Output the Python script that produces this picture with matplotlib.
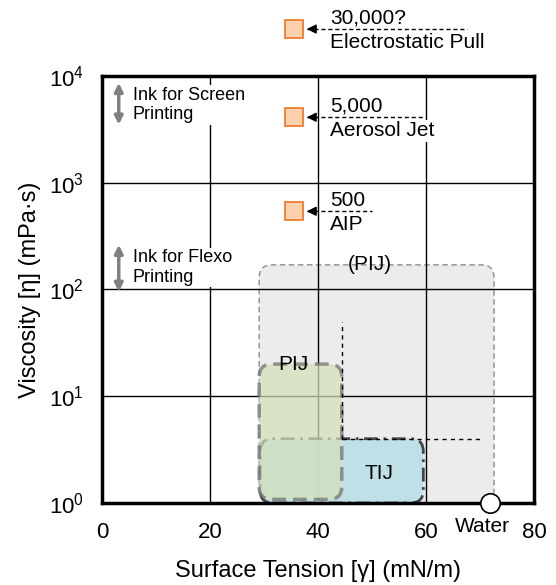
import matplotlib.pyplot as plt
from matplotlib.patches import FancyBboxPatch

plt.rcParams['font.family'] = ['Liberation Sans', 'DejaVu Sans']

# printing methods (orange squares): surface tension, viscosity, labels
method_x = [35.5, 35.5, 35.5]
method_y = [27500, 4100, 540]
method_value = ['30,000?', '5,000', '500']
method_name = ['Electrostatic Pull', 'Aerosol Jet', 'AIP']
method_line_end = [67.6, 59.4, 50.0]

# operating windows: x0, x1, y0, y1
pij_wide = [29.1, 72.6, 1.0, 170]
pij = [29.1, 44.4, 1.08, 20]
tij = [29.3, 59.5, 1.0, 4.0]

# ink ranges on the left (viscosity span)
screen_range = [3500, 8600]
flexo_range = [95, 262]

water_x, water_y = 71.8, 1.0

x_ticks = [0, 20, 40, 60, 80]
y_ticks = [1, 10, 100, 1000, 10000]

fig = plt.figure(figsize=(5.56, 5.85), dpi=100)
ax = fig.add_axes([0.1835, 0.1402, 0.777, 0.730])
ax.set_yscale('log')
ax.set_xlim(0, 80)
ax.set_ylim(1, 10000)

ax.set_xticks(x_ticks)
ax.set_yticks(y_ticks)
ax.set_yticklabels([r'$\mathregular{10^{%d}}$' % i for i in range(5)])
ax.minorticks_off()
ax.tick_params(length=0, labelsize=16)
ax.tick_params(axis='x', pad=14)
ax.tick_params(axis='y', pad=13)
ax.grid(True, color='black', lw=1, zorder=1)
ax.set_axisbelow(True)
for s in ax.spines.values():
    s.set_linewidth(2.5)
    s.set_zorder(6)

ax.set_xlabel('Surface Tension [γ] (mN/m)', fontsize=17, labelpad=12)
ax.set_ylabel('Viscosity [η] (mPa·s)', fontsize=17, labelpad=6)


def to_axes(x, y):
    disp = ax.transData.transform((x, y))
    return ax.transAxes.inverted().transform(disp)


def add_box(b, fc, ec, ls, lw, alpha, z):
    (ax0, ay0) = to_axes(b[0], b[2])
    (ax1, ay1) = to_axes(b[1], b[3])
    p = FancyBboxPatch((ax0, ay0), ax1 - ax0, ay1 - ay0,
                       boxstyle='round,pad=0,rounding_size=0.03',
                       transform=ax.transAxes, facecolor=fc, edgecolor=ec,
                       linestyle=ls, lw=lw, alpha=alpha, zorder=z, clip_on=False)
    ax.add_patch(p)


add_box(pij_wide, '#ececec', '#8c8c8c', (0, (4, 2.5)), 1.0, 1.0, 0.5)
add_box(tij, '#bcdfe7', '#333333', (0, (5, 2, 1, 2)), 2.0, 0.9, 3)
add_box(pij, '#d3e0b8', '#707070', (0, (4, 2)), 2.5, 0.72, 4)

ax.text(49.6, pij_wide[3], '(PIJ)', ha='center', va='center', fontsize=15, zorder=7)
ax.text(35.5, pij[3], 'PIJ', ha='center', va='center', fontsize=15, zorder=7)
ax.text(51.3, 1.9, 'TIJ', ha='center', va='center', fontsize=15, zorder=7)

# dashed guide lines
ax.plot([pij[1], pij[1]], [tij[3], 50], color='black', lw=1, ls=(0, (3, 3)), zorder=5)
ax.plot([pij[1], 70], [tij[3], tij[3]], color='black', lw=1, ls=(0, (3, 3)), zorder=5)

# water point
ax.plot([water_x], [water_y], 'o', ms=14, mfc='white', mec='black', mew=1.2,
        clip_on=False, zorder=8)
ax.annotate('Water', (70.5, 1.0), xytext=(0, -17), textcoords='offset points',
            ha='center', va='center', fontsize=15, annotation_clip=False)

# printing methods
for x, y, val, name, xe in zip(method_x, method_y, method_value, method_name,
                               method_line_end):
    ax.annotate(val, (x + 6.7, y), xytext=(0, 4), textcoords='offset points',
                ha='left', va='baseline', fontsize=15, zorder=9,
                annotation_clip=False,
                bbox=dict(fc='white', ec='none', pad=1))
    ax.annotate(name, (x + 6.7, y), xytext=(0, -3), textcoords='offset points',
                ha='left', va='top', fontsize=15, zorder=9,
                annotation_clip=False,
                bbox=dict(fc='white', ec='none', pad=1))
    ax.plot([x], [y], 's', ms=13.3, mfc='#fbd0ad', mec='#ed7d31', mew=1.3,
            clip_on=False, zorder=10)
    ax.plot([x + 2.5, xe], [y, y], color='black', lw=1, ls=(0, (3, 2)),
            clip_on=False, zorder=10)
    ax.annotate('', xy=(x + 1.9, y), xytext=(x + 4.0, y),
                arrowprops=dict(arrowstyle='-|>', color='black', lw=1,
                                mutation_scale=14),
                annotation_clip=False, zorder=10)

# ink ranges
for rng, label, ymid in [(screen_range, 'Ink for Screen\nPrinting', 5350),
                         (flexo_range, 'Ink for Flexo\nPrinting', 160)]:
    ax.annotate('', xy=(3.1, rng[1]), xytext=(3.1, rng[0]),
                arrowprops=dict(arrowstyle='<|-|>', color='#808080', lw=2.5,
                                mutation_scale=12, shrinkA=0, shrinkB=0),
                zorder=7)
    ax.text(5.7, ymid, label, ha='left', va='center', fontsize=13,
            linespacing=1.2, zorder=7, bbox=dict(fc='white', ec='none', pad=1))

fig.savefig('out.png', dpi=100)
